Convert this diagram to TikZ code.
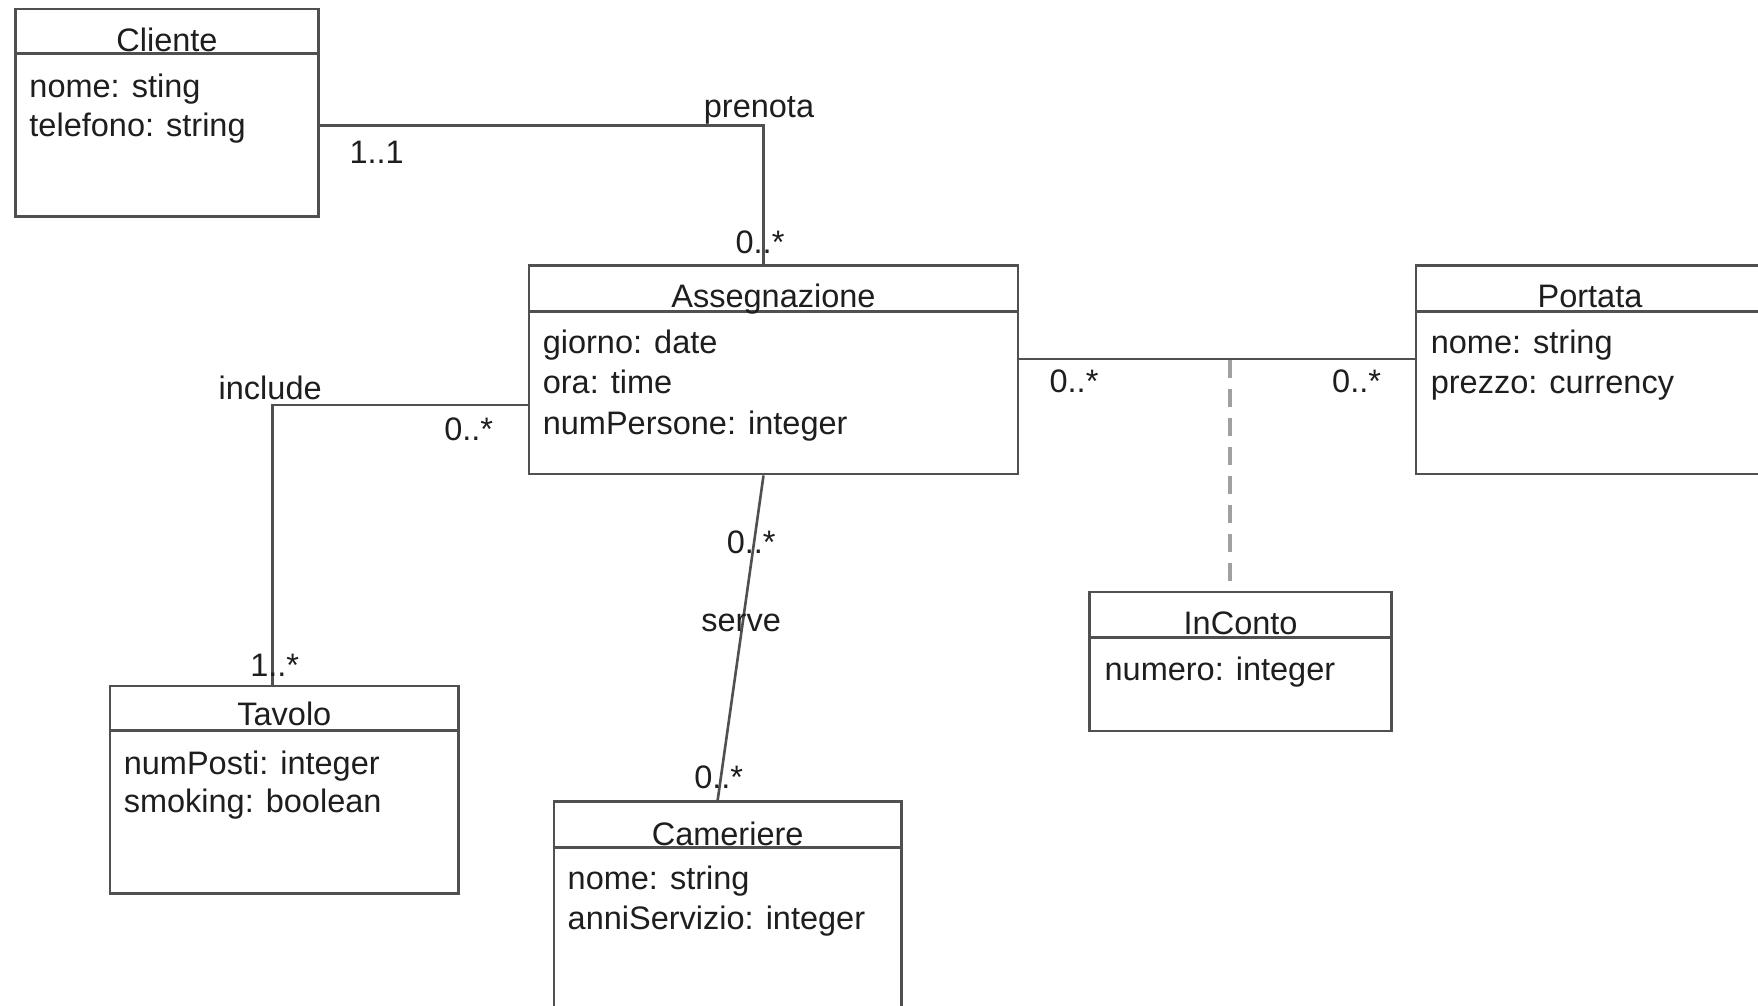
\documentclass[tikz,border=0pt]{standalone}
\usepackage{fontspec}
\setmainfont{Liberation Sans}
\usetikzlibrary{calc}
\definecolor{linegray}{HTML}{505050}
\definecolor{dashgray}{HTML}{A0A0A0}
\definecolor{txt}{HTML}{1E1E1E}
\begin{document}
\begin{tikzpicture}[x=1pt,y=-1pt,
  every node/.style={text=txt, font=\fontsize{32.5}{39}\selectfont},
  umlbox/.style={draw=linegray, line width=2.8pt, inner sep=0pt},
  sep/.style={draw=linegray, line width=2.8pt},
  conn/.style={draw=linegray, line width=2.6pt},
  dconn/.style={draw=dashgray, line width=4pt, dash pattern=on 18pt off 11pt},
  ttl/.style={anchor=base, inner sep=0pt},
  attr/.style={anchor=base west, inner sep=0pt},
  lbl/.style={inner sep=0pt}]
\useasboundingbox (0,0) rectangle (1758,1006);
\clip (0,0) rectangle (1758,1006);
\fill[white] (0,0) rectangle (1758,1006);

% ---- Cliente
\node[umlbox, minimum width=302.7pt, minimum height=207.4pt] (cliente) at (167,112.7) {};
\draw[sep] ([yshift=-46pt]cliente.north west) -- ([yshift=-46pt]cliente.north east);
\node[ttl] (cliente-t) at ([yshift=-43.5pt]cliente.north) {Cliente};
\node[attr] (cliente-a1) at ([shift={(15pt,-89.5pt)}]cliente.north west) {nome: sting};
\node[attr] (cliente-a2) at ([shift={(15pt,-129pt)}]cliente.north west) {telefono: string};

% ---- Assegnazione
\node[umlbox, minimum width=489pt, minimum height=208.3pt] (asse) at (773.5,369.9) {};
\draw[sep] ([yshift=-47pt]asse.north west) -- ([yshift=-47pt]asse.north east);
\node[ttl] (asse-t) at ([yshift=-43.5pt]asse.north) {Assegnazione};
\node[attr] (asse-a1) at ([shift={(15pt,-89.5pt)}]asse.north west) {giorno: date};
\node[attr] (asse-a2) at ([shift={(15pt,-129pt)}]asse.north west) {ora: time};
\node[attr] (asse-a3) at ([shift={(15pt,-170pt)}]asse.north west) {numPersone: integer};

% ---- Tavolo
\node[umlbox, minimum width=348.6pt, minimum height=207.6pt] (tavolo) at (284.3,789.8) {};
\draw[sep] ([yshift=-46pt]tavolo.north west) -- ([yshift=-46pt]tavolo.north east);
\node[ttl] (tavolo-t) at ([yshift=-41pt]tavolo.north) {Tavolo};
\node[attr] (tavolo-a1) at ([shift={(15pt,-89.5pt)}]tavolo.north west) {numPosti: integer};
\node[attr] (tavolo-a2) at ([shift={(15pt,-128pt)}]tavolo.north west) {smoking: boolean};

% ---- Cameriere
\node[umlbox, minimum width=347.5pt, minimum height=208pt] (cam) at (727.65,905.7) {};
\draw[sep] ([yshift=-47pt]cam.north west) -- ([yshift=-47pt]cam.north east);
\node[ttl] (cam-t) at ([yshift=-45pt]cam.north) {Cameriere};
\node[attr] (cam-a1) at ([shift={(15pt,-89.5pt)}]cam.north west) {nome: string};
\node[attr] (cam-a2) at ([shift={(15pt,-129pt)}]cam.north west) {anniServizio: integer};

% ---- Portata
\node[umlbox, minimum width=348pt, minimum height=208.3pt] (portata) at (1590,369.9) {};
\draw[sep] ([yshift=-47pt]portata.north west) -- ([yshift=-47pt]portata.north east);
\node[ttl] (portata-t) at ([yshift=-43.5pt]portata.north) {Portata};
\node[attr] (portata-a1) at ([shift={(16pt,-89.5pt)}]portata.north west) {nome: string};
\node[attr] (portata-a2) at ([shift={(16pt,-129pt)}]portata.north west) {prezzo: currency};

% ---- InConto
\node[umlbox, minimum width=301.6pt, minimum height=139pt] (inconto) at (1240.6,661.5) {};
\draw[sep] ([yshift=-47pt]inconto.north west) -- ([yshift=-47pt]inconto.north east);
\node[ttl] (inconto-t) at ([yshift=-43.5pt]inconto.north) {InConto};
\node[attr] (inconto-a1) at ([shift={(16pt,-89.5pt)}]inconto.north west) {numero: integer};

% ---- connectors
\draw[conn] ([yshift=-12.9pt]cliente.east) -| ([xshift=-10pt]asse.north);
\draw[conn] ([yshift=-34.9pt]asse.west) -| ([xshift=-11.9pt]tavolo.north);
\draw[conn] ([xshift=-10pt]asse.south) -- ([xshift=-10pt]cam.north);
\draw[conn] ([yshift=11.1pt]asse.east) -- ([yshift=11.1pt]portata.west);
\coordinate (assoc) at (1230,360);
\draw[dconn] (assoc) -- ([xshift=-10.6pt,yshift=7pt]inconto.north);

% ---- labels
\node[lbl] (l-prenota) at (759,110) {prenota};
\node[lbl] (m-cli) at (376.7,152.5) {1..1};
\node[lbl] (m-asse1) at (760,242) {0..*};
\node[lbl] (l-include) at (270.2,388) {include};
\node[lbl] (m-asse2) at (468.7,429.4) {0..*};
\node[lbl] (m-tav) at (274.7,664.9) {1..*};
\node[lbl] (l-serve) at (741.1,623.4) {serve};
\node[lbl] (m-asse3) at (751.2,542.7) {0..*};
\node[lbl] (m-cam) at (718.7,777) {0..*};
\node[lbl] (m-asse4) at (1074,381) {0..*};
\node[lbl] (m-port) at (1356.6,381) {0..*};
\end{tikzpicture}
\end{document}
